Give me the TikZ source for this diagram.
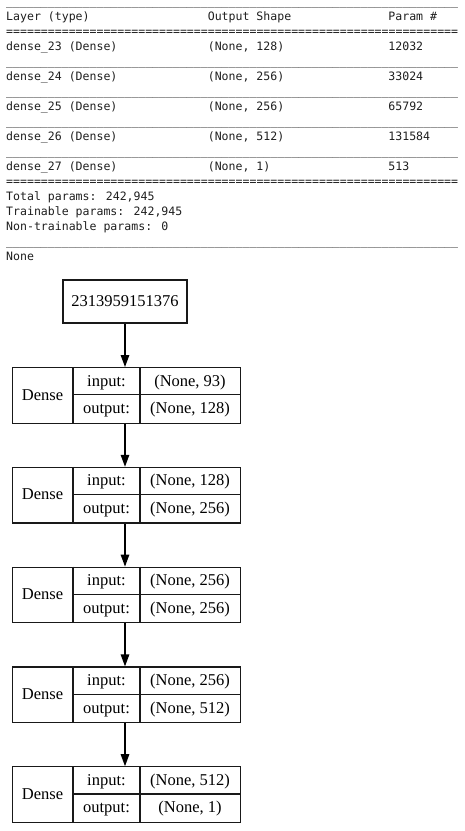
\documentclass[tikz,border=0pt]{standalone}
\usepackage{fontspec}
\setmainfont{Liberation Serif}
\newfontfamily\codefont{DejaVu Sans Mono}
\usetikzlibrary{arrows.meta}

% repeat a character #2, #1 times
\newcount\repcount
\newcommand\charrow[2]{\repcount=#1\relax\loop\ifnum\repcount>0 #2\advance\repcount by -1\repeat}

\begin{document}
\begin{tikzpicture}[x=1pt,y=-1pt,
  code/.style={anchor=base west, inner sep=0pt, text=black!88,
    font=\codefont\fontsize{11.55}{13}\selectfont},
  frame/.style={draw=black!90, line width=1.2pt},
  cellline/.style={draw=black!90, line width=1.1pt},
  lbl/.style={anchor=base, inner sep=0pt, font=\fontsize{16.5}{19}\selectfont},
  arr/.style={draw=black, line width=1.3pt, -{Triangle[length=12pt,width=8.5pt]}}]
\useasboundingbox (0,0) rectangle (464,831);
\fill[white] (0,0) rectangle (464,831);

% ---- model summary (baseline = 5.5 + 15*line) ----
\def\ca{6}\def\cb{207.6}\def\cc{388.2}
\node[code] (s0) at (\ca,5.5) {\charrow{65}{\_}};
\node[code] (hl) at (\ca,20.5) {Layer (type)};
\node[code] (ho) at (\cb,20.5) {Output Shape};
\node[code] (hp) at (\cc,20.5) {Param \#};
\node[code] (e0) at (\ca,35.5) {\charrow{65}{=}};

\foreach \i/\nm/\shp/\prm in {3/dense\_23/128/12032, 5/dense\_24/256/33024,
    7/dense\_25/256/65792, 9/dense\_26/512/131584, 11/dense\_27/1/513}{
  \node[code] (n\i) at (\ca,5.5+15*\i) {\nm{} (Dense)};
  \node[code] (o\i) at (\cb,5.5+15*\i) {(None, \shp)};
  \node[code] (p\i) at (\cc,5.5+15*\i) {\prm};
}
\foreach \i in {4,6,8,10}{
  \node[code] (s\i) at (\ca,5.5+15*\i) {\charrow{65}{\_}};
}
\node[code] (e12) at (\ca,185.5) {\charrow{65}{=}};
\node[code] (t13) at (\ca,200.5) {Total params: 242,945};
\node[code] (t14) at (\ca,215.5) {Trainable params: 242,945};
\node[code] (t15) at (\ca,230.5) {Non-trainable params: 0};
\node[code] (s16) at (\ca,245.5) {\charrow{65}{\_}};
\node[code] (t17) at (\ca,260.5) {None};

% ---- model graph ----
\node[frame, minimum width=124pt, minimum height=43pt, inner sep=0pt,
      font=\fontsize{16.5}{19}\selectfont] (L0) at (125,301.5) {2313959151376};

\foreach \k/\T/\a/\b in {1/367/93/128, 2/466.8/128/256, 3/566.6/256/256,
    4/666.4/256/512, 5/766.2/512/1}{
  \node[frame, anchor=north west, minimum width=228pt, minimum height=55.5pt,
        inner sep=0pt] (L\k) at (12,\T) {};
  \draw[cellline] (73,\T) -- (73,\T+55.5);
  \draw[cellline] (140,\T) -- (140,\T+55.5);
  \draw[cellline] (73,\T+27.75) -- (240,\T+27.75);
  \node[lbl] (L\k-type) at (42.5,\T+33) {Dense};
  \node[lbl] (L\k-in)   at (106.5,\T+19) {input:};
  \node[lbl] (L\k-out)  at (106.5,\T+46.6) {output:};
  \node[lbl] (L\k-ish)  at (190,\T+19) {(None, \a)};
  \node[lbl] (L\k-osh)  at (190,\T+46.6) {(None, \b)};
}

\draw[arr] (L0.south) -- (L0.south |- L1.north);
\foreach \k/\n in {1/2,2/3,3/4,4/5}{
  \draw[arr] (L0.south |- L\k.south) -- (L0.south |- L\n.north);
}
\end{tikzpicture}
\end{document}
